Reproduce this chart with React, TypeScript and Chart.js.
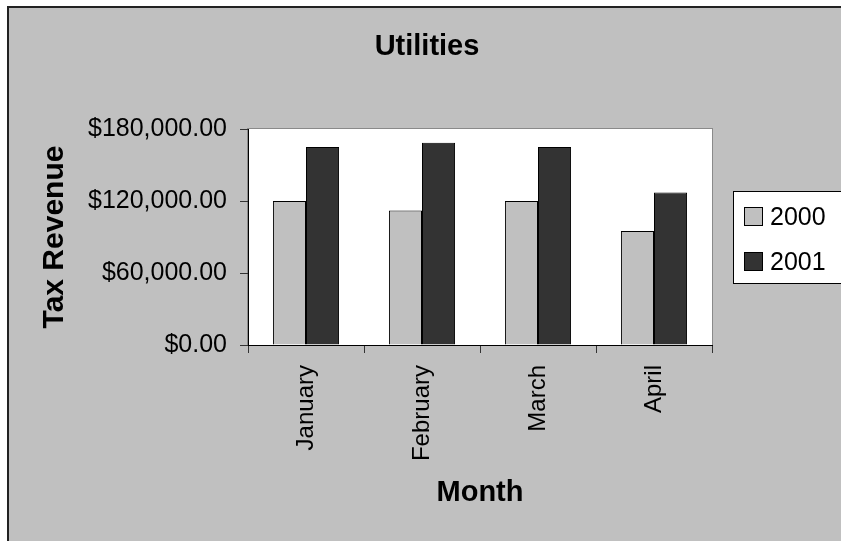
import React, { useEffect, useRef } from "react";
import { Chart, registerables } from "chart.js";

Chart.register(...registerables);

const months = ["January", "February", "March", "April"];
const series2000 = [120000, 112000, 120000, 95000];
const series2001 = [165000, 168500, 165000, 127000];
const seriesNames = ["2000", "2001"];
const yTicks = [0, 60000, 120000, 180000];
const chartTitle = "Utilities";
const yTitle = "Tax Revenue";
const xTitle = "Month";

const FONT = "'Liberation Sans', Arial, Helvetica, sans-serif";
const colors = ["#c0c0c0", "#333333"];

const money = new Intl.NumberFormat("en-US", {
  minimumFractionDigits: 2,
  maximumFractionDigits: 2,
});

const decorPlugin = {
  id: "decor",
  beforeDraw(chart: any) {
    const { ctx, chartArea } = chart;
    ctx.save();
    ctx.fillStyle = "#ffffff";
    ctx.fillRect(chartArea.left, chartArea.top, chartArea.right - chartArea.left, chartArea.bottom - chartArea.top);
    ctx.strokeStyle = "#8a8a8a";
    ctx.lineWidth = 1;
    ctx.strokeRect(chartArea.left - 0.5, chartArea.top - 0.5, chartArea.right - chartArea.left + 1, chartArea.bottom - chartArea.top + 1);
    ctx.restore();
  },
  afterDraw(chart: any) {
    const { ctx } = chart;
    ctx.save();
    // title
    ctx.fillStyle = "#000";
    ctx.font = `bold 29px ${FONT}`;
    ctx.textAlign = "center";
    ctx.textBaseline = "middle";
    ctx.fillText(chartTitle, 427, 47);
    // legend
    const bx = 733.5, by = 191.5, bw = 200, bh = 92;
    ctx.fillStyle = "#ffffff";
    ctx.fillRect(bx, by, bw, bh);
    ctx.strokeStyle = "#000";
    ctx.lineWidth = 1;
    ctx.strokeRect(bx, by, bw, bh);
    ctx.font = `25px ${FONT}`;
    ctx.textAlign = "left";
    ctx.textBaseline = "middle";
    chart.data.datasets.forEach((ds: any, i: number) => {
      const cy = 217 + i * 45;
      ctx.fillStyle = ds.backgroundColor;
      ctx.fillRect(744.5, cy - 9.5, 18, 18);
      ctx.strokeStyle = "#000";
      ctx.strokeRect(744.5, cy - 9.5, 18, 18);
      ctx.fillStyle = "#000";
      ctx.fillText(ds.label, 770, cy + 1);
    });
    ctx.restore();
  },
};

export default function App() {
  const ref = useRef<HTMLCanvasElement>(null);
  useEffect(() => {
    if (!ref.current) return;
    const chart = new Chart(ref.current, {
      type: "bar",
      data: {
        labels: months,
        datasets: [
          {
            label: seriesNames[0],
            data: series2000,
            backgroundColor: colors[0],
            borderColor: "#000",
            borderWidth: 1,
            categoryPercentage: 0.57,
            barPercentage: 1.0,
          },
          {
            label: seriesNames[1],
            data: series2001,
            backgroundColor: colors[1],
            borderColor: "#000",
            borderWidth: 1,
            categoryPercentage: 0.57,
            barPercentage: 1.0,
          },
        ],
      },
      options: {
        responsive: false,
        animation: false,
        events: [],
        layout: { padding: { left: 0, top: 129, right: 129, bottom: 0 } },
        plugins: {
          legend: { display: false },
          tooltip: { enabled: false },
          title: { display: false },
        },
        scales: {
          x: {
            grid: {
              offset: true,
              drawOnChartArea: false,
              drawTicks: true,
              tickLength: 8,
              color: "#333",
            },
            border: { color: "#000", width: 1 },
            ticks: {
              color: "#000",
              font: { family: FONT, size: 24 },
              minRotation: 90,
              maxRotation: 90,
              padding: 12,
              autoSkip: false,
            },
            title: {
              display: true,
              text: xTitle,
              color: "#000",
              font: { family: FONT, size: 29, weight: "bold" },
              padding: { top: 0, bottom: 31 },
            },
            afterFit(scale: any) {
              scale.height = 196;
            },
          },
          y: {
            min: 0,
            max: 180000,
            afterBuildTicks(scale: any) {
              scale.ticks = yTicks.map((v) => ({ value: v }));
            },
            grid: {
              drawOnChartArea: false,
              drawTicks: true,
              tickLength: 8,
              color: "#333",
            },
            border: { color: "#000", width: 1 },
            ticks: {
              color: "#000",
              font: { family: FONT, size: 25 },
              padding: 13,
              callback: (v: any) => "$" + money.format(Number(v)),
            },
            title: {
              display: true,
              text: yTitle,
              color: "#000",
              font: { family: FONT, size: 30, weight: "bold" },
              padding: { top: 37, bottom: 0 },
            },
            afterFit(scale: any) {
              scale.width = 248;
            },
          },
        },
      },
      plugins: [decorPlugin],
    });
    return () => chart.destroy();
  }, []);

  return (
    <div style={{ position: "fixed", left: 0, top: 0, width: 841, height: 541, overflow: "hidden", background: "#fff" }}>
      <div
        style={{
          position: "absolute",
          left: 7,
          top: 6,
          width: 900,
          height: 600,
          boxSizing: "border-box",
          background: "#c0c0c0",
          borderLeft: "2px solid #222",
          borderTop: "2px solid #222",
        }}
      />
      <canvas ref={ref} width={841} height={541} style={{ position: "absolute", left: 0, top: 0, width: 841, height: 541 }} />
    </div>
  );
}
